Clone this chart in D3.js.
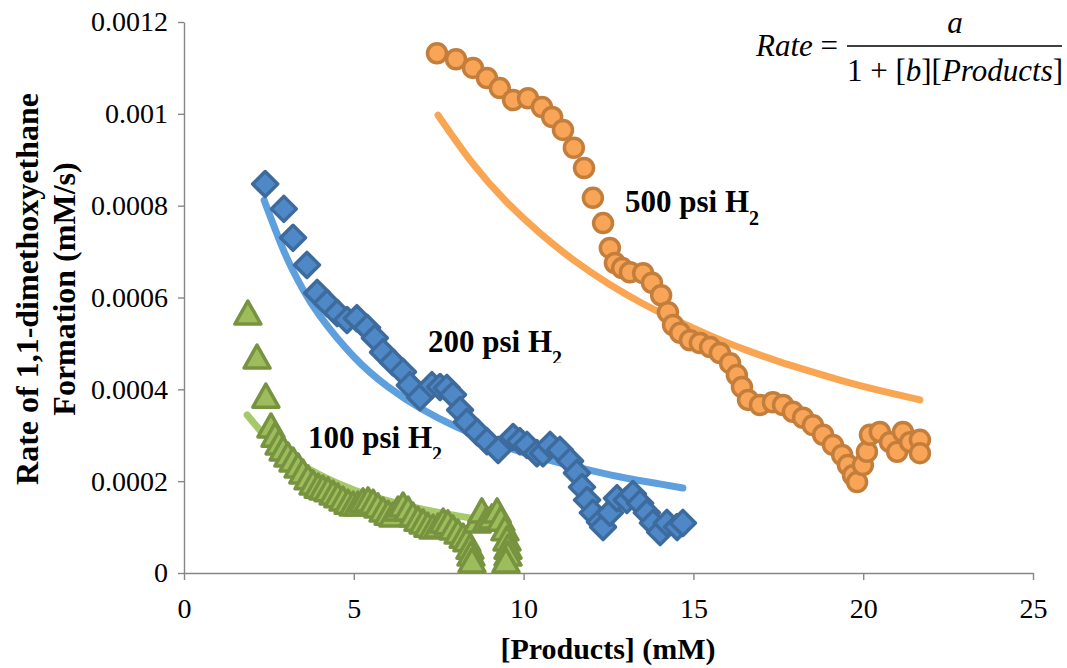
<!DOCTYPE html>
<html>
<head>
<meta charset="utf-8">
<script src="https://cdn.jsdelivr.net/npm/d3@7"></script>
<style>
  body { margin: 0; background: #fff; }
  svg { display: block; }
  text { font-family: "Liberation Serif", "Times New Roman", serif; }
</style>
</head>
<body>
<svg id="chart" width="1067" height="668"></svg>
<script>
// ---- axis ticks ----
const xTicks = [0, 5, 10, 15, 20, 25];
const xTickLabels = ["0", "5", "10", "15", "20", "25"];
const yTicks = [0, 0.0002, 0.0004, 0.0006, 0.0008, 0.001, 0.0012];
const yTickLabels = ["0", "0.0002", "0.0004", "0.0006", "0.0008", "0.001", "0.0012"];

// ---- 100 psi H2: measured rate vs products ----
const products100 = [1.88, 2.15, 2.41, 2.56, 2.68, 2.80, 2.92, 3.06, 3.21, 3.36, 3.50, 3.65, 3.80, 3.95,
  4.09, 4.24, 4.39, 4.53, 4.68, 4.83, 4.98, 5.12, 5.27, 5.42, 5.57, 5.71, 5.86, 6.01, 6.15, 6.30,
  6.45, 6.60, 6.74, 6.89, 7.04, 7.18, 7.33, 7.48, 7.63, 7.77, 7.92, 8.07, 8.22, 8.33, 8.42, 8.45,
  8.48, 8.63, 8.77, 8.92, 9.07, 9.22, 9.33, 9.45, 9.51, 9.54, 9.54, 9.48];
const rate100 = [0.000564, 0.000468, 0.000383, 0.000318, 0.000298, 0.000281, 0.000268, 0.000255, 0.000244,
  0.000231, 0.000218, 0.000205, 0.000194, 0.000187, 0.000183, 0.000179, 0.000172, 0.000166, 0.000159,
  0.000152, 0.000148, 0.000148, 0.000155, 0.000157, 0.000152, 0.000144, 0.000135, 0.000128, 0.000124,
  0.000137, 0.000146, 0.000137, 0.000124, 0.000115, 0.000109, 0.000102, 0.000098, 0.000100, 0.000111,
  0.000107, 0.000096, 0.000087, 0.000078, 0.000070, 0.000054, 0.000039, 0.000024, 0.000111, 0.000133,
  0.000115, 0.000120, 0.000133, 0.000115, 0.000094, 0.000072, 0.000054, 0.000039, 0.000024];

// ---- 200 psi H2 ----
const products200 = [2.39, 2.94, 3.21, 3.62, 3.92, 4.21, 4.51, 4.80, 5.09, 5.39, 5.62, 5.86, 6.15, 6.45,
  6.65, 6.95, 7.30, 7.54, 7.74, 7.92, 8.13, 8.33, 8.63, 8.92, 9.25, 9.69, 9.89, 10.10, 10.39, 10.57,
  10.78, 11.07, 11.37, 11.57, 11.72, 11.87, 12.04, 12.25, 12.34, 12.54, 12.75, 13.04, 13.22, 13.43,
  13.63, 13.81, 14.02, 14.22, 14.52, 14.69];
const rate200 = [0.000847, 0.000793, 0.000730, 0.000671, 0.000610, 0.000588, 0.000566, 0.000551, 0.000555,
  0.000534, 0.000512, 0.000481, 0.000459, 0.000438, 0.000409, 0.000383, 0.000409, 0.000405, 0.000403,
  0.000388, 0.000355, 0.000329, 0.000307, 0.000287, 0.000268, 0.000296, 0.000287, 0.000279, 0.000261,
  0.000261, 0.000279, 0.000268, 0.000244, 0.000218, 0.000187, 0.000159, 0.000131, 0.000111, 0.000100,
  0.000131, 0.000163, 0.000159, 0.000172, 0.000152, 0.000131, 0.000109, 0.000089, 0.000109, 0.000100,
  0.000109];

// ---- 500 psi H2 ----
const products500 = [7.45, 8.01, 8.51, 8.92, 9.30, 9.69, 10.13, 10.54, 10.84, 11.16, 11.48, 11.78, 12.04,
  12.34, 12.54, 12.69, 12.90, 13.13, 13.52, 13.78, 14.05, 14.25, 14.40, 14.61, 14.90, 15.19, 15.49,
  15.78, 16.08, 16.28, 16.43, 16.61, 16.96, 17.34, 17.64, 17.93, 18.23, 18.52, 18.82, 19.11, 19.38,
  19.55, 19.70, 19.82, 19.99, 20.11, 20.20, 20.49, 20.79, 21.00, 21.17, 21.38, 21.67, 21.67];
const rate500 = [0.001132, 0.001119, 0.001100, 0.001078, 0.001056, 0.001030, 0.001034, 0.001015, 0.000993,
  0.000965, 0.000926, 0.000882, 0.000817, 0.000762, 0.000708, 0.000675, 0.000664, 0.000655, 0.000653,
  0.000632, 0.000605, 0.000568, 0.000540, 0.000523, 0.000507, 0.000501, 0.000492, 0.000479, 0.000457,
  0.000431, 0.000405, 0.000377, 0.000366, 0.000372, 0.000366, 0.000351, 0.000338, 0.000322, 0.000301,
  0.000279, 0.000257, 0.000235, 0.000213, 0.000198, 0.000235, 0.000264, 0.000301, 0.000307, 0.000285,
  0.000264, 0.000307, 0.000285, 0.000290, 0.000261];

// ---- fitted curves, Rate = a / (1 + b[Products]) ----
const fitProducts100 = [1.86, 2.3, 2.8, 3.5, 4.5, 5.5, 6.5, 7.5, 8.5, 9.5];
const fitRate100 = [0.000344, 0.000306, 0.000271, 0.000234, 0.000196, 0.000168, 0.000148, 0.000132, 0.000119, 0.000108];
const fitProducts200 = [2.36, 3.0, 3.5, 4.0, 5.0, 6.0, 7.0, 8.0, 9.0, 10.0, 11.0, 12.0, 13.0, 14.0, 14.69];
const fitRate200 = [0.000812, 0.000691, 0.000618, 0.000560, 0.000471, 0.000406, 0.000357, 0.000319, 0.000288,
  0.000262, 0.000241, 0.000223, 0.000207, 0.000194, 0.000185];
const fitProducts500 = [7.48, 8.5, 9.5, 10.5, 11.5, 12.5, 13.5, 14.5, 15.5, 16.5, 17.5, 18.5, 19.5, 20.5, 21.67];
const fitRate500 = [0.000997, 0.000892, 0.000808, 0.000739, 0.000680, 0.000630, 0.000587, 0.000550, 0.000517,
  0.000487, 0.000461, 0.000438, 0.000416, 0.000397, 0.000377];

const svg = d3.select("#chart");

const x = d3.scaleLinear().domain([0, 25]).range([184, 1033]);
const y = d3.scaleLinear().domain([0, 0.0012]).range([573, 22]);

const axisColor = "#868686";
const serif = "'Liberation Serif', 'Times New Roman', serif";

// y axis
const gy = svg.append("g")
  .attr("transform", `translate(${x(0)},0)`)
  .call(d3.axisLeft(y).tickValues(yTicks)
    .tickFormat((d, i) => yTickLabels[i]).tickSize(6).tickSizeOuter(0).tickPadding(10));
// x axis
const gx = svg.append("g")
  .attr("transform", `translate(0,${y(0)})`)
  .call(d3.axisBottom(x).tickValues(xTicks)
    .tickFormat((d, i) => xTickLabels[i]).tickSize(7).tickSizeOuter(0).tickPadding(18));

[gx, gy].forEach(g => {
  g.attr("font-family", serif);
  g.select(".domain").attr("stroke", axisColor).attr("stroke-width", 1.4);
  g.selectAll(".tick line").attr("stroke", axisColor).attr("stroke-width", 1.4);
  g.selectAll(".tick text").attr("fill", "#000").attr("font-size", 28);
});

// axis titles
svg.append("text")
  .attr("x", 608).attr("y", 659)
  .attr("text-anchor", "middle")
  .attr("font-size", 30).attr("font-weight", "bold")
  .text("[Products] (mM)");

const yTitle = svg.append("text")
  .attr("transform", "translate(38,289) rotate(-90)")
  .attr("text-anchor", "middle")
  .attr("font-size", 32).attr("font-weight", "bold");
yTitle.append("tspan").attr("x", 0).attr("y", 0).text("Rate of 1,1-dimethoxyethane");
yTitle.append("tspan").attr("x", 0).attr("y", 37).text("Formation (mM/s)");

// fitted lines
const line = d3.line().x(d => x(d[0])).y(d => y(d[1])).curve(d3.curveNatural);
const fits = [
  { p: fitProducts100, r: fitRate100, color: "#A6C96A" },
  { p: fitProducts200, r: fitRate200, color: "#5E9FDD" },
  { p: fitProducts500, r: fitRate500, color: "#FAA552" }
];
fits.forEach(f => {
  svg.append("path")
    .datum(f.p.map((v, i) => [v, f.r[i]]))
    .attr("d", line)
    .attr("fill", "none")
    .attr("stroke", f.color)
    .attr("stroke-width", 7)
    .attr("stroke-linecap", "round");
});

// markers
const diamond = "M0,-12.5L12.5,0L0,12.5L-12.5,0Z";
const triangle = "M0,-13L13,10L-13,10Z";

svg.append("g").selectAll("circle")
  .data(products500.map((v, i) => [v, rate500[i]]))
  .join("circle")
  .attr("cx", d => x(d[0])).attr("cy", d => y(d[1]))
  .attr("r", 9.5)
  .attr("fill", "#F9A557").attr("stroke", "#C47E3B").attr("stroke-width", 3.5);

svg.append("g").selectAll("path")
  .data(products200.map((v, i) => [v, rate200[i]]))
  .join("path")
  .attr("d", diamond)
  .attr("transform", d => `translate(${x(d[0])},${y(d[1])})`)
  .attr("fill", "#4E88C7").attr("stroke", "#3D6B9D").attr("stroke-width", 3.5)
  .attr("stroke-linejoin", "round");

svg.append("g").selectAll("path")
  .data(products100.map((v, i) => [v, rate100[i]]))
  .join("path")
  .attr("d", triangle)
  .attr("transform", d => `translate(${x(d[0])},${y(d[1])})`)
  .attr("fill", "#9DBD5C").attr("stroke", "#78933F").attr("stroke-width", 3.5)
  .attr("stroke-linejoin", "round");

// series labels
const defs = svg.append("defs");
function seriesLabel(id, label, px, py, clipSub) {
  const g = svg.append("g");
  if (clipSub) {
    defs.append("clipPath").attr("id", id)
      .append("rect").attr("x", px - 5).attr("y", py - 40).attr("width", 200).attr("height", 51);
    g.attr("clip-path", `url(#${id})`);
  }
  const t = g.append("text")
    .attr("x", px).attr("y", py)
    .attr("font-size", 31).attr("font-weight", "bold");
  t.append("tspan").text(label);
  t.append("tspan").attr("font-size", 20).attr("dy", 13).text("2");
}
seriesLabel("clip500", "500 psi H", 625, 212, false);
seriesLabel("clip200", "200 psi H", 428, 352, true);
seriesLabel("clip100", "100 psi H", 308, 448, true);

// rate law
const fs = 31;
const lhs = svg.append("text").attr("x", 838).attr("y", 56).attr("text-anchor", "end").attr("font-size", fs);
lhs.append("tspan").attr("font-style", "italic").text("Rate");
lhs.append("tspan").text(" = ");
svg.append("line").attr("x1", 847).attr("x2", 1062).attr("y1", 46).attr("y2", 46)
  .attr("stroke", "#000").attr("stroke-width", 1.5);
svg.append("text").attr("x", 955).attr("y", 33).attr("text-anchor", "middle")
  .attr("font-size", fs).attr("font-style", "italic").text("a");
const den = svg.append("text").attr("x", 955).attr("y", 81).attr("text-anchor", "middle").attr("font-size", fs);
den.append("tspan").text("1 + [");
den.append("tspan").attr("font-style", "italic").text("b");
den.append("tspan").text("][");
den.append("tspan").attr("font-style", "italic").text("Products");
den.append("tspan").text("]");
</script>
</body>
</html>
